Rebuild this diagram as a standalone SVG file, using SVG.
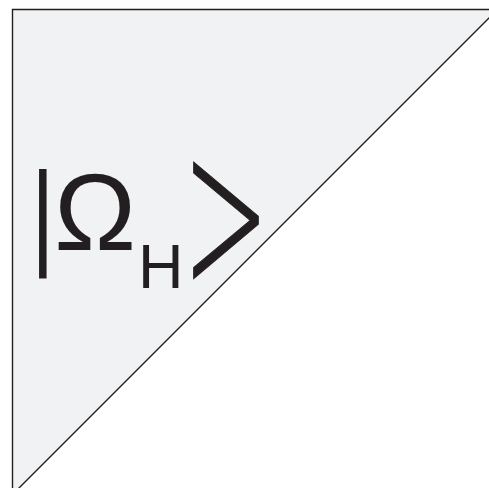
<svg xmlns="http://www.w3.org/2000/svg" width="489" height="488" viewBox="0 0 489 488">
<style>
.tri{fill:#f1f2f4;stroke:#231f20;stroke-width:1.4}
.t{fill:#231f20;font-family:"Liberation Sans",Arial,sans-serif}
.br{fill:#231f20;stroke:#231f20;stroke-width:0.5;font-family:Inter,"Liberation Sans",sans-serif;font-weight:200}
</style>
<rect width="489" height="488" fill="#ffffff"/>
<g id="triangle">
<polygon class="tri" points="12.5,9.5 497.5,9.5 12.5,494.5"/>
</g>
<g id="label">
<text class="t" transform="scale(0.8,1)" x="38.3" y="253.6" font-size="116">|</text>
<text class="t" x="54" y="250" font-size="110">Ω</text>
<text class="t" x="138" y="288" font-size="63">H</text>
<text class="br" transform="translate(172.4,283.1) scale(1.57,2.21)" font-size="100">&gt;</text>
</g>
</svg>
